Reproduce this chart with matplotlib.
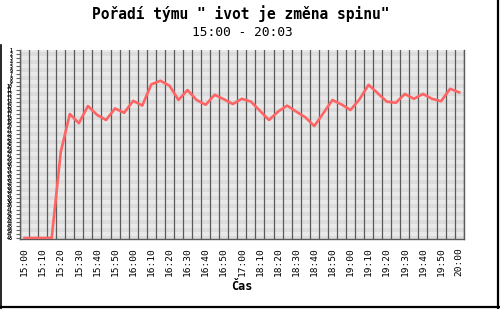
import matplotlib
matplotlib.use("Agg")
import matplotlib.pyplot as plt
from matplotlib.lines import Line2D
import numpy as np

title = 'Pořadí týmu " ivot je změna spinu"'
subtitle = "15:00 - 20:03"
xlabel = "Čas"

# rank of the team at each 5-minute sample (one value per category)
ranks = [48, 48, 48, 48, 26.5, 17, 19.3, 15, 17.2, 18.5,
         15.6, 16.7, 13.7, 14.9, 9.6, 8.7, 9.9, 13.5, 11, 13.5,
         14.7, 12.2, 13.3, 14.5, 13.2, 13.9, 16.2, 18.5, 16.4, 14.9,
         16.4, 17.8, 20, 16.8, 13.5, 14.6, 16, 13.3, 9.7, 11.8,
         13.9, 14.2, 12, 13.2, 12, 13.2, 13.8, 10.7, 11.6]

# labels shown on every second category
tick_labels = ["15:00", "15:10", "15:20", "15:30", "15:40", "15:50", "16:00",
               "16:10", "16:20", "16:30", "16:40", "16:50", "17:00",
               "18:10", "18:20", "18:30", "18:40", "18:50", "19:00",
               "19:10", "19:20", "19:30", "19:40", "19:50", "20:00"]

max_rank = 48

fig = plt.figure(figsize=(5.0, 3.09), dpi=100)
fig.patch.set_facecolor("white")

ax = fig.add_axes([20 / 500, 1 - 239 / 309, 443.7 / 500, 189 / 309])
n = len(ranks)
x = np.arange(n)

# striped background
for r in range(1, max_rank + 1):
    col = "#e9e9e9" if r % 2 else "#dcdcdc"
    ax.axhspan(r - 0.5, r + 0.5, color=col, lw=0, zorder=0)

# vertical grid at category boundaries
for k in range(n + 1):
    ax.axvline(k - 0.5, color="#5a5a5a", lw=0.9, zorder=1)

ax.plot(x, ranks, color="#ff6464", lw=1.9, zorder=3)

ax.set_xlim(-0.5, n - 0.5)
ax.set_ylim(max_rank + 0.25, 1)

ax.set_xticks(x[::2])
ax.set_xticklabels(tick_labels, rotation=90, family="DejaVu Sans Mono",
                   fontsize=6.8, va="top", ha="center")
ax.tick_params(axis="x", length=0, pad=6)

ax.set_yticks(range(1, max_rank + 1))
ax.set_yticklabels([str(r) for r in range(1, max_rank + 1)],
                   family="DejaVu Sans Mono", fontsize=3.6, fontweight="bold")
ax.tick_params(axis="y", length=3, color="#666666", pad=2, width=0.8)

ax.spines["top"].set_visible(False)
for s in ["left", "bottom", "right"]:
    ax.spines[s].set_color("#5a5a5a")
    ax.spines[s].set_linewidth(1.0)

ax.set_xlabel(xlabel, family="DejaVu Sans Mono", fontweight="bold",
              fontsize=8.5, labelpad=3)

fig.text(241 / 500, 1 - 14 / 309, title, ha="center", va="center",
         family="DejaVu Sans Mono", fontweight="bold", fontsize=10.5)
fig.text(242 / 500, 1 - 33 / 309, subtitle, ha="center", va="center",
         family="DejaVu Sans Mono", fontsize=9.3)

# outer frame (shadow on right and bottom)
fig.add_artist(Line2D([0.5 / 500, 0.5 / 500], [0, 1 - 45 / 309], transform=fig.transFigure, color="black", lw=1.2))
fig.add_artist(Line2D([497.5 / 500, 497.5 / 500], [0, 1], transform=fig.transFigure, color="black", lw=1.6))
fig.add_artist(Line2D([0, 1], [1 - 307 / 309, 1 - 307 / 309], transform=fig.transFigure, color="black", lw=1.6))

fig.savefig("out.png", dpi=100)
